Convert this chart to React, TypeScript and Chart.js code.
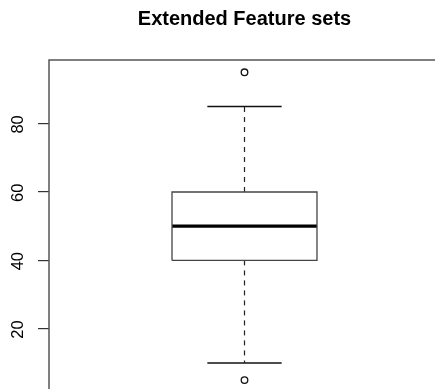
import React, { useEffect, useRef } from "react";
import { Chart, registerables } from "chart.js";

Chart.register(...registerables);

// ---- data ----
const chartTitle = "Extended Feature sets";
const categories = ["Extended Feature sets"];
const lowerWhisker = [10];
const q1 = [40];
const medians = [50];
const q3 = [60];
const upperWhisker = [85];
const outliers = [95, 5];
const yTicks = [20, 40, 60, 80];
const yRange = [1.4, 98.6];

// ---- layout constants ----
const CANVAS_W = 470;
const CANVAS_H = 420;
const BOX_HALF = 0.1854;
const STAPLE_HALF = 0.095;
const FONT = "'Liberation Sans', Arial, Helvetica, sans-serif";

const framePlugin = {
  id: "rframe",
  afterDatasetsDraw(chart: any) {
    const { ctx, chartArea, scales } = chart;
    ctx.save();
    ctx.strokeStyle = "#555";
    ctx.lineWidth = 1.5;
    ctx.strokeRect(chartArea.left, chartArea.top, chartArea.right - chartArea.left, chartArea.bottom - chartArea.top);
    // y tick labels (rotated, as in R)
    const y = scales.y;
    ctx.fillStyle = "#000";
    ctx.font = `16.5px ${FONT}`;
    ctx.textAlign = "center";
    ctx.textBaseline = "middle";
    yTicks.forEach((v) => {
      const py = y.getPixelForValue(v);
      ctx.save();
      ctx.translate(chartArea.left - 30.5, py + 0.8);
      ctx.rotate(-Math.PI / 2);
      ctx.fillText(String(v), 0, 0);
      ctx.restore();
    });
    ctx.restore();
  },
};

export default function App() {
  const ref = useRef<HTMLCanvasElement | null>(null);

  useEffect(() => {
    if (!ref.current) return;
    const datasets: any[] = [];
    categories.forEach((_, i) => {
      const c = i + 1;
      // box outline
      datasets.push({
        data: [
          { x: c - BOX_HALF, y: q1[i] },
          { x: c + BOX_HALF, y: q1[i] },
          { x: c + BOX_HALF, y: q3[i] },
          { x: c - BOX_HALF, y: q3[i] },
          { x: c - BOX_HALF, y: q1[i] },
        ],
        showLine: true,
        borderColor: "#444",
        borderWidth: 1.3,
        pointRadius: 0,
        fill: false,
      });
      // median
      datasets.push({
        data: [
          { x: c - BOX_HALF, y: medians[i] },
          { x: c + BOX_HALF, y: medians[i] },
        ],
        showLine: true,
        borderColor: "#000",
        borderWidth: 3.2,
        pointRadius: 0,
      });
      // whiskers
      datasets.push({
        data: [
          { x: c, y: q3[i] },
          { x: c, y: upperWhisker[i] },
        ],
        showLine: true,
        borderColor: "#222",
        borderWidth: 1.2,
        borderDash: [5, 5],
        pointRadius: 0,
      });
      datasets.push({
        data: [
          { x: c, y: q1[i] },
          { x: c, y: lowerWhisker[i] },
        ],
        showLine: true,
        borderColor: "#222",
        borderWidth: 1.2,
        borderDash: [5, 5],
        pointRadius: 0,
      });
      // staples
      datasets.push({
        data: [
          { x: c - STAPLE_HALF, y: upperWhisker[i] },
          { x: c + STAPLE_HALF, y: upperWhisker[i] },
        ],
        showLine: true,
        borderColor: "#111",
        borderWidth: 1.3,
        pointRadius: 0,
      });
      datasets.push({
        data: [
          { x: c - STAPLE_HALF, y: lowerWhisker[i] },
          { x: c + STAPLE_HALF, y: lowerWhisker[i] },
        ],
        showLine: true,
        borderColor: "#111",
        borderWidth: 1.3,
        pointRadius: 0,
      });
      // outliers
      datasets.push({
        data: outliers.map((v) => ({ x: c, y: v })),
        showLine: false,
        pointStyle: "circle",
        pointRadius: 3.3,
        pointBorderWidth: 1.3,
        pointBackgroundColor: "#fff",
        pointBorderColor: "#111",
      });
    });

    const chart = new Chart(ref.current, {
      type: "scatter",
      data: { datasets },
      options: {
        animation: false,
        responsive: false,
        events: [],
        layout: { padding: { left: 0, top: 0, right: CANVAS_W - 440, bottom: CANVAS_H - 392.4 } },
        plugins: {
          legend: { display: false },
          tooltip: { enabled: false },
          title: {
            display: true,
            text: chartTitle,
            fullSize: false,
            color: "#000",
            font: { family: FONT, size: 20, weight: "bold", lineHeight: 1.2 },
            padding: { top: 7.5, bottom: 28.5 },
          },
        },
        scales: {
          x: { type: "linear", min: 0.5, max: 1.5, display: false },
          y: {
            type: "linear",
            min: yRange[0],
            max: yRange[1],
            afterBuildTicks: (s: any) => {
              s.ticks = yTicks.map((v) => ({ value: v }));
            },
            afterFit: (s: any) => {
              s.width = 49;
            },
            ticks: { display: false },
            border: { display: false },
            grid: {
              display: true,
              drawOnChartArea: false,
              drawTicks: true,
              tickLength: 11,
              tickColor: "#333",
              lineWidth: 1.2,
            },
          },
        },
      },
      plugins: [framePlugin],
    });
    return () => chart.destroy();
  }, []);

  return (
    <div
      style={{
        position: "fixed",
        left: 0,
        top: 0,
        width: 435,
        height: 389,
        overflow: "hidden",
        background: "#fff",
      }}
    >
      <canvas ref={ref} width={CANVAS_W} height={CANVAS_H} style={{ width: CANVAS_W, height: CANVAS_H, display: "block" }} />
    </div>
  );
}
